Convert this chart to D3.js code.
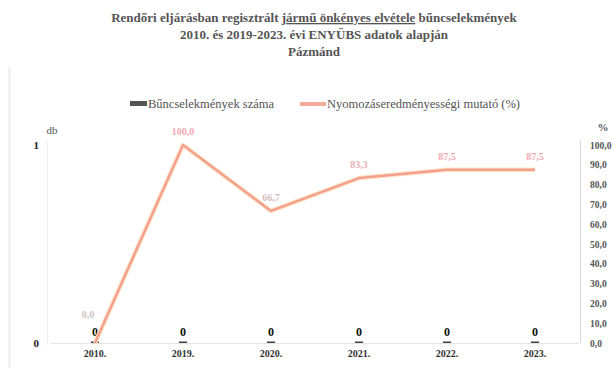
<!DOCTYPE html>
<html>
<head>
<meta charset="utf-8">
<script src="https://cdn.jsdelivr.net/npm/d3@7"></script>
<style>
  html, body { margin: 0; padding: 0; background: #fff; }
  svg { display: block; }
  svg text { font-family: "Liberation Serif", "DejaVu Serif", serif; }
</style>
</head>
<body>
<svg id="chart" width="613" height="368"></svg>
<script>
// Years on the category axis
const years = ["2010.", "2019.", "2020.", "2021.", "2022.", "2023."];
// Number of registered offences per year
const crimeCounts = [0, 0, 0, 0, 0, 0];
// Investigation success rate (%)
const successRate = [0.0, 100.0, 66.7, 83.3, 87.5, 87.5];
// Axis ticks
const leftTicks = [0, 1];
const rightTicks = [0, 10, 20, 30, 40, 50, 60, 70, 80, 90, 100];

const titleLines = [
  ["Rendőri eljárásban regisztrált ", "jármű önkényes elvétele", " bűncselekmények"],
  ["2010. és 2019-2023. évi ENYÜBS adatok alapján"],
  ["Pázmánd"]
];
const legendLabels = ["Bűncselekmények száma", "Nyomozáseredményességi mutató (%)"];

const SERIF = "Liberation Serif, DejaVu Serif, serif";
const svg = d3.select("#chart");
const plot = { left: 51, right: 579, top: 145, bottom: 343 };

const fmt = v => d3.format(".1f")(v).replace(".", ",");

// faint outer frame on the left
svg.append("line").attr("x1", 9.5).attr("x2", 9.5).attr("y1", 67).attr("y2", 368)
  .attr("stroke", "#ececec").attr("stroke-width", 2);

// Title
const title = svg.append("g").attr("fill", "#555").attr("font-weight", "bold")
  .attr("font-family", SERIF).attr("font-size", 13).attr("text-anchor", "middle");
titleLines.forEach((parts, i) => {
  const t = title.append("text").attr("x", 314).attr("y", 22 + i * 17);
  parts.forEach((p, j) => {
    const ts = t.append("tspan").text(p);
    if (parts.length > 1 && j === 1) ts.attr("text-decoration", "underline");
  });
});

// Scales
const x = d3.scaleBand().domain(years).range([plot.left, plot.right]);
const yLeft = d3.scaleLinear().domain([0, 1]).range([plot.bottom, plot.top]);
const yRight = d3.scaleLinear().domain([0, 100]).range([plot.bottom, plot.top]);

// Axis lines
svg.append("line").attr("x1", 47.5).attr("x2", 47.5).attr("y1", plot.top - 5).attr("y2", plot.bottom + 2)
  .attr("stroke", "#f0f0f0");
svg.append("line").attr("x1", plot.right + 1.5).attr("x2", plot.right + 1.5)
  .attr("y1", plot.top - 5).attr("y2", plot.bottom).attr("stroke", "#d8d8d8");
svg.append("line").attr("x1", plot.left).attr("x2", plot.right)
  .attr("y1", plot.bottom + 0.5).attr("y2", plot.bottom + 0.5).attr("stroke", "#e4e4e4");

// Left axis
const gl = svg.append("g").attr("transform", `translate(42,0)`)
  .call(d3.axisLeft(yLeft).tickValues(leftTicks).tickSize(0).tickFormat(d3.format("d")))
  .attr("font-family", SERIF);
gl.select(".domain").remove();
gl.selectAll("text").attr("font-size", 11).attr("font-weight", "bold").attr("fill", "#222");
svg.append("text").attr("x", 52).attr("y", 134).attr("font-size", 11).attr("fill", "#555")
  .attr("font-family", SERIF).attr("text-anchor", "middle").text("db");

// Right axis
const gr = svg.append("g").attr("transform", `translate(587,0)`)
  .call(d3.axisRight(yRight).tickValues(rightTicks).tickSize(0).tickFormat(fmt))
  .attr("font-family", SERIF);
gr.select(".domain").remove();
gr.selectAll("text").attr("font-size", 9.5).attr("font-weight", "bold").attr("fill", "#555");
svg.append("text").attr("x", 603).attr("y", 131).attr("font-size", 11).attr("font-weight", "bold")
  .attr("font-family", SERIF).attr("fill", "#555").attr("text-anchor", "middle").text("%");

// Category axis
const gx = svg.append("g").attr("transform", `translate(0,${plot.bottom + 4})`)
  .call(d3.axisBottom(x).tickSize(0))
  .attr("font-family", SERIF);
gx.select(".domain").remove();
gx.selectAll("text").attr("font-size", 10).attr("font-weight", "bold").attr("fill", "#333");

// Bars (offence counts)
const barW = 8;
svg.append("g").selectAll("rect").data(years).join("rect")
  .attr("x", d => x(d) + x.bandwidth() / 2 - barW / 2)
  .attr("y", (d, i) => yLeft(crimeCounts[i]) - 1.5)
  .attr("width", barW)
  .attr("height", (d, i) => yLeft(0) - yLeft(crimeCounts[i]) + 1.5)
  .attr("fill", "#444");
svg.append("g").attr("font-family", SERIF).selectAll("text").data(years).join("text")
  .attr("x", d => x(d) + x.bandwidth() / 2)
  .attr("y", (d, i) => yLeft(crimeCounts[i]) - 7)
  .attr("text-anchor", "middle").attr("font-size", 12).attr("font-weight", "bold")
  .attr("fill", "#111").text((d, i) => crimeCounts[i]);

// Success-rate line
const line = d3.line()
  .x((d, i) => x(years[i]) + x.bandwidth() / 2)
  .y(d => yRight(d));
svg.append("path").datum(successRate).attr("d", line)
  .attr("fill", "none").attr("stroke", "#fde3c6").attr("stroke-width", 4.5).attr("stroke-linejoin", "round");
svg.append("path").datum(successRate).attr("d", line)
  .attr("fill", "none").attr("stroke", "#f4a08c").attr("stroke-width", 2.4).attr("stroke-linejoin", "round");

// Success-rate labels
const labelColors = ["#cfc4c4", "#f2a7b2", "#d2bcbc", "#e6b0b6", "#f2a7b2", "#f2a7b2"];
svg.append("g").attr("font-family", SERIF).selectAll("text").data(successRate).join("text")
  .attr("x", (d, i) => x(years[i]) + x.bandwidth() / 2 - (i === 0 ? 7 : 0))
  .attr("y", (d, i) => yRight(d) - (i === 0 ? 25 : 10))
  .attr("text-anchor", "middle").attr("font-size", 10).attr("font-weight", "bold")
  .attr("fill", (d, i) => labelColors[i]).text(d => fmt(d));

// Legend
const lg = svg.append("g").attr("font-size", 12.5).attr("fill", "#555").attr("font-family", SERIF);
lg.append("rect").attr("x", 130).attr("y", 101).attr("width", 17).attr("height", 5).attr("fill", "#555");
lg.append("text").attr("x", 148).attr("y", 108).text(legendLabels[0]);
lg.append("line").attr("x1", 300).attr("x2", 326).attr("y1", 104).attr("y2", 104)
  .attr("stroke", "#f6ab98").attr("stroke-width", 4);
lg.append("text").attr("x", 327).attr("y", 108).text(legendLabels[1]);
</script>
</body>
</html>
